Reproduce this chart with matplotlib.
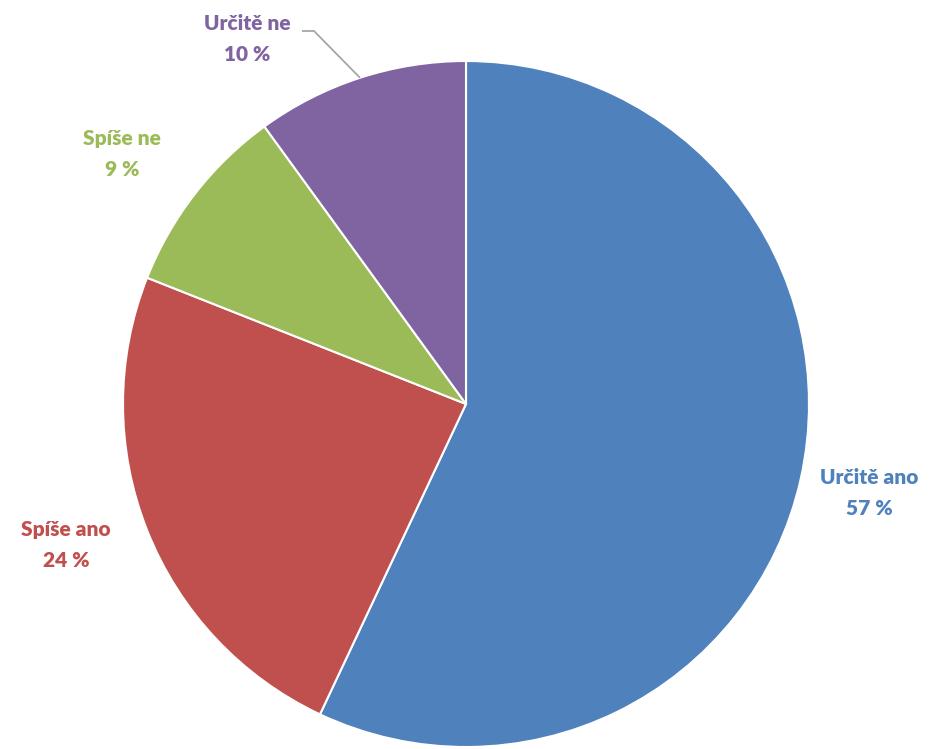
import numpy as np
import matplotlib
matplotlib.use('Agg')
import matplotlib.pyplot as plt

# dados
kategorie = ['Určitě ano', 'Spíše ano', 'Spíše ne', 'Určitě ne']
hodnoty = [57, 24, 9, 10]
barvy = ['#4F81BD', '#C0504D', '#9BBB59', '#8064A2']

plt.rcParams['font.family'] = ['Lato', 'DejaVu Sans']

fig = plt.figure(figsize=(9.46, 7.49), dpi=100)
ax = fig.add_axes([0, 0, 1, 1])
ax.set_xlim(0, 946)
ax.set_ylim(0, 749)
ax.axis('off')

stred = (466, 345)
polomer = 343
klinky, _ = ax.pie(hodnoty, colors=barvy, startangle=90, counterclock=False,
                   center=stred, radius=polomer,
                   wedgeprops={'edgecolor': 'white', 'linewidth': 1.5})
ax.set_xlim(0, 946)
ax.set_ylim(0, 749)
ax.set_aspect('equal')

# pozice popisků (pixely od leva, od shora)
popisky_xy = [(869, 493), (66, 545), (122, 154), (247, 39)]

for kat, hod, barva, (px, py) in zip(kategorie, hodnoty, barvy, popisky_xy):
    ax.text(px, 749 - py, f'{kat}\n{hod} %', color=barva, fontsize=15,
            fontweight='heavy', ha='center', va='center', linespacing=1.75)

# vodici cara pro "Určitě ne"
w = klinky[3]
uhel = np.deg2rad((w.theta1 + w.theta2) / 2)
x_hrana = stred[0] + polomer * np.cos(uhel)
y_hrana = stred[1] + polomer * np.sin(uhel)
ax.plot([302, 314, x_hrana], [749 - 31, 749 - 31, y_hrana],
        color='#A6A6A6', linewidth=1.3, solid_capstyle='butt')

fig.savefig('out.png', dpi=100)
